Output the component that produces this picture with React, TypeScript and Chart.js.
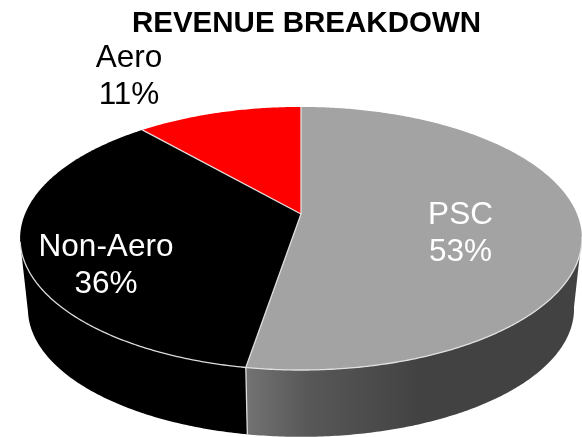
import React, { useEffect, useRef } from "react";
import { Chart, registerables } from "chart.js";

Chart.register(...registerables);

const titleText = "REVENUE BREAKDOWN";
const categories = ["PSC", "Non-Aero", "Aero"];
const shares = [53, 36, 11];
const sliceColors = ["#A3A3A3", "#000000", "#FF0000"];
const labelColors = ["#FFFFFF", "#FFFFFF", "#000000"];
const labelCenters = [
  [460.5, 233.5],
  [106, 265.5],
  [129, 77],
];

const W = 582;
const H = 437;
const apexX = 301;
const apexY = 214;
const A = 276;
const B = 127;
const P = -0.186;
const ellipseCx = 300.5;
const ellipseCy = 238.5;
const lowerCy = 309;
const lowerScale = 0.972;
const seamWarp = (1.4 * Math.PI) / 180;
const wallLeft = (259.3 * Math.PI) / 180;
const wallRight = (100.7 * Math.PI) / 180;
const edge = "rgba(228,228,228,0.95)";

function warp(t: number) {
  const k = Math.min(1, t / Math.PI) * Math.min(1, Math.max(0, 2 * Math.PI - t) / 0.7);
  return t - seamWarp * k;
}
function rim(t: number): [number, number] {
  const a = warp(t);
  const u = Math.sin(a);
  const v = -Math.cos(a);
  const d = 1 + P * v;
  return [apexX + (A * u) / d, apexY + (B * v) / d];
}
function lowerRim(t: number): [number, number] {
  const [x, y] = rim(t);
  return [ellipseCx + lowerScale * (x - ellipseCx), lowerCy + lowerScale * (y - ellipseCy)];
}
function samples(a: number, b: number) {
  const n = Math.max(2, Math.ceil(Math.abs(b - a) / 0.01));
  const out: number[] = [];
  for (let i = 0; i <= n; i++) out.push(a + ((b - a) * i) / n);
  return out;
}

const pie3d = {
  id: "pie3d",
  beforeDatasetDraw(chart: any) {
    const ctx: CanvasRenderingContext2D = chart.ctx;
    const arcs = chart.getDatasetMeta(0).data;
    const angle = (x: number) => {
      let t = x + Math.PI / 2;
      if (t < 0) t += 2 * Math.PI;
      return t;
    };
    ctx.save();
    // side wall
    const grad = ctx.createLinearGradient(247, 0, 420, 0);
    grad.addColorStop(0, "#727272");
    grad.addColorStop(0.35, "#585858");
    grad.addColorStop(1, "#424242");
    arcs.forEach((arc: any, i: number) => {
      const s = Math.max(angle(arc.startAngle), wallRight);
      const e = Math.min(angle(arc.endAngle), wallLeft);
      if (e <= s) return;
      const ts = samples(s, e);
      ctx.beginPath();
      ts.forEach((t, k) => {
        const [x, y] = rim(t);
        k ? ctx.lineTo(x, y) : ctx.moveTo(x, y);
      });
      ts.slice().reverse().forEach((t) => {
        const [x, y] = lowerRim(t);
        ctx.lineTo(x, y);
      });
      ctx.closePath();
      ctx.fillStyle = i === 0 ? grad : sliceColors[i];
      ctx.fill();
    });
    // seam between the wall segments
    const seam = angle(arcs[0].endAngle);
    const [sx, sy] = rim(seam);
    const [lx, ly] = lowerRim(seam);
    ctx.beginPath();
    ctx.moveTo(sx, sy);
    ctx.lineTo(lx, ly);
    ctx.strokeStyle = edge;
    ctx.lineWidth = 1.3;
    ctx.stroke();
    // top surface
    arcs.forEach((arc: any, i: number) => {
      ctx.beginPath();
      ctx.moveTo(apexX, apexY);
      samples(angle(arc.startAngle), angle(arc.endAngle)).forEach((t) => {
        const [x, y] = rim(t);
        ctx.lineTo(x, y);
      });
      ctx.closePath();
      ctx.fillStyle = sliceColors[i];
      ctx.fill();
    });
    // radial edges
    ctx.strokeStyle = edge;
    ctx.lineWidth = 1.3;
    ctx.lineJoin = "round";
    arcs.forEach((arc: any) => {
      const [x, y] = rim(angle(arc.startAngle));
      ctx.beginPath();
      ctx.moveTo(apexX, apexY);
      ctx.lineTo(x, y);
      ctx.stroke();
    });
    // front rim edge
    ctx.beginPath();
    samples(wallRight, wallLeft).forEach((t, k) => {
      const [x, y] = rim(t);
      k ? ctx.lineTo(x, y) : ctx.moveTo(x, y);
    });
    ctx.stroke();
    ctx.restore();
    return false;
  },
  afterDatasetsDraw(chart: any) {
    const ctx: CanvasRenderingContext2D = chart.ctx;
    ctx.save();
    ctx.textAlign = "center";
    ctx.textBaseline = "middle";
    ctx.fillStyle = "#000000";
    ctx.font = 'bold 29.5px "Liberation Sans"';
    ctx.fillText(titleText, 306.5, 24);
    ctx.font = '31.5px "Liberation Sans"';
    categories.forEach((name, i) => {
      const [x, y] = labelCenters[i];
      ctx.fillStyle = labelColors[i];
      ctx.fillText(name, x, y - 18.5);
      ctx.fillText(`${shares[i]}%`, x, y + 18.5);
    });
    ctx.restore();
  },
};

export default function App() {
  const ref = useRef<HTMLCanvasElement>(null);
  useEffect(() => {
    const chart = new Chart(ref.current as HTMLCanvasElement, {
      type: "pie",
      data: {
        labels: categories,
        datasets: [{ data: shares, backgroundColor: sliceColors, borderWidth: 0 }],
      },
      options: {
        animation: false,
        responsive: false,
        events: [],
        plugins: { legend: { display: false }, tooltip: { enabled: false }, title: { display: false } },
      },
      plugins: [pie3d],
    } as any);
    return () => chart.destroy();
  }, []);
  return (
    <div style={{ position: "absolute", left: 0, top: 0, width: W, height: H, background: "#fff" }}>
      <canvas ref={ref} width={W} height={H} style={{ display: "block" }} />
    </div>
  );
}
